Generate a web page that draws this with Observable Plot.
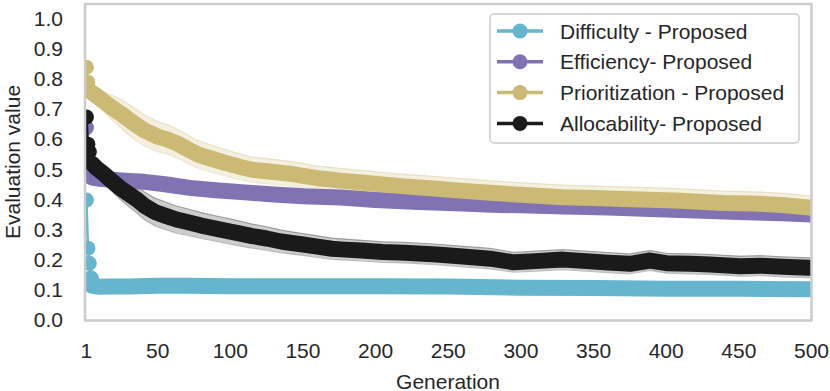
<!DOCTYPE html>
<html><head><meta charset="utf-8">
<script src="https://cdn.jsdelivr.net/npm/d3@7"></script>
<script src="https://cdn.jsdelivr.net/npm/@observablehq/plot@0.6"></script>
<style>body{margin:0;background:#fff} #chart svg{display:block}</style>
</head><body><div id="chart"></div>
<script>
const seriesNames = ["Difficulty - Proposed","Efficiency- Proposed","Prioritization - Proposed","Allocability- Proposed"];
const seriesColors = ["#64b5cd","#8172b3","#ccb974","#1a1a1a"];
const xTicks = [1,50,100,150,200,250,300,350,400,450,500];
const yTicks = [0,0.1,0.2,0.3,0.4,0.5,0.6,0.7,0.8,0.9,1.0];

const diffGen = [1,2,3,4,5,10,20,30,50,70,100,150,200,250,300,350,400,450,500];
const diffVal = [0.40,0.24,0.19,0.14,0.115,0.112,0.113,0.113,0.115,0.115,0.114,0.114,0.114,0.113,0.109,0.108,0.105,0.105,0.104];

const effGen = [1,2,3,5,10,18,30,41,55,72,90,110,130,150,176,200,230,260,280,300,330,360,389,420,450,480,500];
const effVal = [0.64,0.49,0.478,0.474,0.47,0.467,0.463,0.46,0.452,0.44,0.432,0.425,0.418,0.412,0.408,0.40,0.393,0.388,0.384,0.382,0.378,0.375,0.37,0.365,0.36,0.356,0.352];

const priGen = [1,2,3,5,8,12,18,25,32,41,50,57,64,72,78,85,95,107,115,125,141,150,160,169,176,190,205,220,242,260,279,300,329,350,370,389,410,439,460,480,500];
const priVal = [0.84,0.79,0.765,0.755,0.745,0.73,0.708,0.685,0.66,0.63,0.61,0.60,0.586,0.565,0.55,0.54,0.525,0.509,0.50,0.495,0.487,0.48,0.472,0.468,0.464,0.458,0.451,0.445,0.437,0.43,0.424,0.417,0.409,0.406,0.403,0.401,0.397,0.39,0.388,0.383,0.374];
const priCI = [0.02,0.02,0.02,0.02,0.022,0.03,0.04,0.048,0.052,0.052,0.05,0.049,0.048,0.047,0.046,0.045,0.044,0.043,0.042,0.042,0.041,0.041,0.04,0.04,0.04,0.04,0.04,0.04,0.04,0.04,0.04,0.04,0.04,0.04,0.04,0.04,0.04,0.039,0.039,0.039,0.039];

const allGen = [1,2,3,5,8,12,18,24,30,36,41,48,55,63,71,80,90,100,107,115,125,135,141,150,160,170,176,190,205,220,242,260,279,295,310,329,345,360,375,389,400,417,430,451,465,480,498,500];
const allVal = [0.675,0.585,0.56,0.52,0.505,0.49,0.465,0.44,0.42,0.40,0.38,0.36,0.348,0.335,0.326,0.315,0.305,0.295,0.288,0.28,0.272,0.262,0.258,0.252,0.245,0.238,0.236,0.232,0.227,0.225,0.219,0.212,0.205,0.193,0.197,0.202,0.197,0.192,0.188,0.199,0.19,0.188,0.186,0.18,0.182,0.178,0.175,0.175];
const allCI = [0.02,0.02,0.02,0.02,0.022,0.026,0.032,0.038,0.042,0.045,0.046,0.046,0.046,0.045,0.044,0.043,0.042,0.042,0.041,0.04,0.039,0.038,0.037,0.036,0.036,0.035,0.035,0.034,0.034,0.034,0.034,0.034,0.034,0.033,0.033,0.033,0.033,0.033,0.033,0.033,0.033,0.033,0.033,0.033,0.033,0.033,0.033,0.033];

function rows(name, gens, vals, ci) {
  return gens.map((g, i) => ({series: name, g, v: vals[i],
    lo: ci ? vals[i] - ci[i] : null, hi: ci ? vals[i] + ci[i] : null}));
}
const series = [
  rows(seriesNames[0], diffGen, diffVal, null),
  rows(seriesNames[1], effGen, effVal, null),
  rows(seriesNames[2], priGen, priVal, priCI),
  rows(seriesNames[3], allGen, allVal, allCI)
];
const ciData = series.filter(s => s[0].lo !== null).flat();

const font = "'Liberation Sans', Arial, Helvetica, sans-serif";
const FS = 21;

const marks = [
  Plot.areaY(ciData, {x: "g", y1: "lo", y2: "hi", z: "series", fill: "series", fillOpacity: 0.22, clip: true}),
  Plot.line(ciData, {x: "g", y: "lo", z: "series", stroke: "series", strokeOpacity: 0.28, strokeWidth: 1.2, clip: true}),
  Plot.line(ciData, {x: "g", y: "hi", z: "series", stroke: "series", strokeOpacity: 0.28, strokeWidth: 1.2, clip: true})
];
series.forEach(s => {
  marks.push(Plot.line(s, {x: "g", y: "v", stroke: "series", strokeWidth: 2.5, clip: true}));
  marks.push(Plot.line(s.filter(d => d.g >= 4), {x: "g", y: "v", stroke: "series", strokeWidth: 16, strokeLinejoin: "round", strokeLinecap: "round", clip: true}));
  marks.push(Plot.dot(s.filter(d => d.g <= 5), {x: "g", y: "v", fill: "series", r: 7.5, clip: true}));
});
marks.push(
  Plot.axisX({ticks: xTicks, tickSize: 0, tickPadding: 23, tickFormat: d => String(d), label: null, fontSize: FS}),
  Plot.axisY({ticks: yTicks, tickSize: 0, tickPadding: 22, tickFormat: d3.format(".1f"), label: null, fontSize: FS}),
  Plot.frame({stroke: "#cccccc", strokeWidth: 2.5})
);

const chart = Plot.plot({
  width: 830, height: 391,
  marginLeft: 84.5, marginRight: 19, marginTop: 3.5, marginBottom: 71,
  style: {fontFamily: font, fontSize: FS + "px", color: "#262626", background: "white"},
  x: {domain: [0, 500]},
  y: {domain: [0, 1.05]},
  color: {domain: seriesNames, range: seriesColors},
  marks
});
document.getElementById("chart").appendChild(chart);

const svg = d3.select(chart);
// axis titles
svg.append("text").attr("x", 448).attr("y", 381).attr("text-anchor", "middle")
  .attr("dominant-baseline", "central").attr("font-family", font).attr("font-size", FS)
  .attr("fill", "#262626").text("Generation");
svg.append("text").attr("transform", "translate(12,162) rotate(-90)").attr("text-anchor", "middle")
  .attr("dominant-baseline", "central").attr("font-family", font).attr("font-size", FS)
  .attr("fill", "#262626").text("Evaluation value");

// legend
const lg = svg.append("g");
lg.append("rect").attr("x", 490).attr("y", 14).attr("width", 309).attr("height", 129)
  .attr("rx", 4).attr("fill", "white").attr("fill-opacity", 0.85)
  .attr("stroke", "#cccccc").attr("stroke-width", 1.5);
seriesNames.forEach((name, i) => {
  const y = 31 + i * 30.8;
  lg.append("line").attr("x1", 497).attr("x2", 543).attr("y1", y).attr("y2", y)
    .attr("stroke", seriesColors[i]).attr("stroke-width", 3.5);
  lg.append("circle").attr("cx", 520).attr("cy", y).attr("r", 7.5).attr("fill", seriesColors[i]);
  lg.append("text").attr("x", 560).attr("y", y).attr("text-anchor", "start").attr("dominant-baseline", "central")
    .attr("font-family", font).attr("font-size", FS).attr("fill", "#262626").text(name);
});
</script>
</body></html>
